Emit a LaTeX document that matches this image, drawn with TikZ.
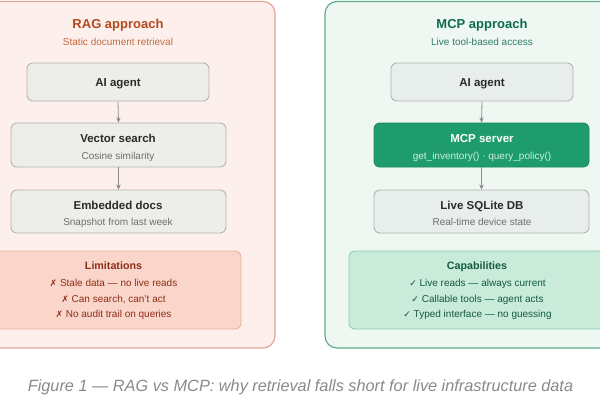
\documentclass[tikz,border=0pt]{standalone}
\usepackage{fontspec}
\setmainfont{Liberation Sans}
\newfontfamily\symfont{DejaVu Sans}
\usetikzlibrary{arrows.meta}
\definecolor{lpfill}{HTML}{FDF0EC}
\definecolor{lpdraw}{HTML}{E5A595}
\definecolor{rpfill}{HTML}{EFF7F3}
\definecolor{rpdraw}{HTML}{5FAE8B}
\definecolor{gbfill}{HTML}{EDEDEA}
\definecolor{gbdraw}{HTML}{B5B4AE}
\definecolor{gbfillr}{HTML}{E8EEEB}
\definecolor{limfill}{HTML}{FAD5C9}
\definecolor{limdraw}{HTML}{EBB0A0}
\definecolor{capfill}{HTML}{C8EBDA}
\definecolor{capdraw}{HTML}{8ECBB0}
\definecolor{mcpfill}{HTML}{1F9C6E}
\definecolor{mcpdraw}{HTML}{178A5F}
\definecolor{ragtitle}{HTML}{B34A1E}
\definecolor{ragsub}{HTML}{C4683F}
\definecolor{mcptitle}{HTML}{0E6B4E}
\definecolor{mcpsub}{HTML}{2E7D62}
\definecolor{boxtitle}{HTML}{2B2B2B}
\definecolor{boxsub}{HTML}{6E6E6E}
\definecolor{limtext}{HTML}{8E2E18}
\definecolor{captext}{HTML}{155A40}
\definecolor{mcplight}{HTML}{CFEFE0}
\definecolor{arrowc}{HTML}{8A8A8A}
\definecolor{figcap}{HTML}{8A8A8A}
\begin{document}
\begin{tikzpicture}[x=1pt,y=-1pt,
  panel/.style={rounded corners=12pt, line width=1.2pt},
  box/.style={draw, rounded corners=6pt, line width=0.9pt, inner sep=0pt},
  graybox/.style={box, fill=gbfill, draw=gbdraw},
  grayboxr/.style={box, fill=gbfillr, draw=gbdraw},
  ttl/.style={font=\fontsize{13}{15}\selectfont\bfseries, anchor=mid},
  sub/.style={font=\fontsize{10}{12}\selectfont, anchor=mid},
  btitle/.style={font=\fontsize{11.5}{13}\selectfont\bfseries, text=boxtitle, anchor=mid},
  bsub/.style={font=\fontsize{10}{12}\selectfont, text=boxsub, anchor=mid},
  ltitle/.style={font=\fontsize{10.7}{12}\selectfont\bfseries, anchor=mid},
  item/.style={font=\fontsize{10}{12}\selectfont, anchor=mid},
  arr/.style={draw=arrowc, line width=0.8pt, -{Stealth[length=5pt,width=4.5pt]}}
]
\useasboundingbox (0,0) rectangle (600,400);
\fill[white] (0,0) rectangle (600,400);
\begin{scope}
\clip (0,0) rectangle (600,400);
% panels
\draw[panel, fill=lpfill, draw=lpdraw] (-39,1.5) rectangle (275,348);
\draw[panel, fill=rpfill, draw=rpdraw] (325,1.5) rectangle (639,348);
% left boxes
\node[graybox, minimum width=182pt, minimum height=38pt] (ragagent) at (118,82) {};
\node[graybox, minimum width=215pt, minimum height=44pt] (vsearch) at (118.5,145) {};
\node[graybox, minimum width=215pt, minimum height=43pt] (embdocs) at (118.5,211.5) {};
\node[box, fill=limfill, draw=limdraw, minimum width=256pt, minimum height=78pt] (limits) at (113,290) {};
% right boxes
\node[grayboxr, minimum width=182pt, minimum height=38pt] (mcpagent) at (482,82) {};
\node[box, fill=mcpfill, draw=mcpdraw, minimum width=215pt, minimum height=44pt] (mcpserver) at (481.5,145) {};
\node[grayboxr, minimum width=215pt, minimum height=43pt] (sqlite) at (481.5,211.5) {};
\node[box, fill=capfill, draw=capdraw, minimum width=256pt, minimum height=78pt] (caps) at (477,290) {};
\end{scope}
% arrows
\draw[arr] (ragagent.south) -- (vsearch.north);
\draw[arr] (vsearch.south) -- (embdocs.north);
\draw[arr] (mcpagent.south) -- (mcpserver.north);
\draw[arr] (mcpserver.south) -- (sqlite.north);
% left texts
\node[ttl, text=ragtitle] (ragt) at (118,26) {RAG approach};
\node[sub, text=ragsub] (rags) at (118,43) {Static document retrieval};
\node[btitle] (ragagentt) at (118,84) {AI agent};
\node[btitle] (vsearcht) at (118,140) {Vector search};
\node[bsub] (vsearchs) at (118,157) {Cosine similarity};
\node[btitle] (embdocst) at (118,207) {Embedded docs};
\node[bsub] (embdocss) at (118,223) {Snapshot from last week};
\node[ltitle, text=limtext] (limt) at (113.5,267) {Limitations};
\node[item, text=limtext] (lim1) at (113.5,284) {{\symfont\fontsize{9}{11}\selectfont ✗} Stale data — no live reads};
\node[item, text=limtext] (lim2) at (113.5,300) {{\symfont\fontsize{9}{11}\selectfont ✗} Can search, can't act};
\node[item, text=limtext] (lim3) at (113.5,315) {{\symfont\fontsize{9}{11}\selectfont ✗} No audit trail on queries};
% right texts
\node[ttl, text=mcptitle] (mcpt) at (482,26) {MCP approach};
\node[sub, text=mcpsub] (mcps) at (482,43) {Live tool-based access};
\node[btitle] (mcpagentt) at (482,84) {AI agent};
\node[btitle, text=white] (mcpservert) at (482,140) {MCP server};
\node[bsub, text=mcplight] (mcpservers) at (482,157) {get\_inventory() · query\_policy()};
\node[btitle] (sqlitet) at (482,207) {Live SQLite DB};
\node[bsub] (sqlites) at (482,223) {Real-time device state};
\node[ltitle, text=captext] (capt) at (477,267) {Capabilities};
\node[item, text=captext] (cap1) at (477.5,284) {{\symfont\fontsize{9}{11}\selectfont ✓} Live reads — always current};
\node[item, text=captext] (cap2) at (477.5,300) {{\symfont\fontsize{9}{11}\selectfont ✓} Callable tools — agent acts};
\node[item, text=captext] (cap3) at (477.5,315) {{\symfont\fontsize{9}{11}\selectfont ✓} Typed interface — no guessing};
% caption
\node[font=\fontsize{16.3}{18}\selectfont\itshape, text=figcap, anchor=mid] (figcaption) at (300.5,389) {Figure 1 — RAG vs MCP: why retrieval falls short for live infrastructure data};
\end{tikzpicture}
\end{document}
